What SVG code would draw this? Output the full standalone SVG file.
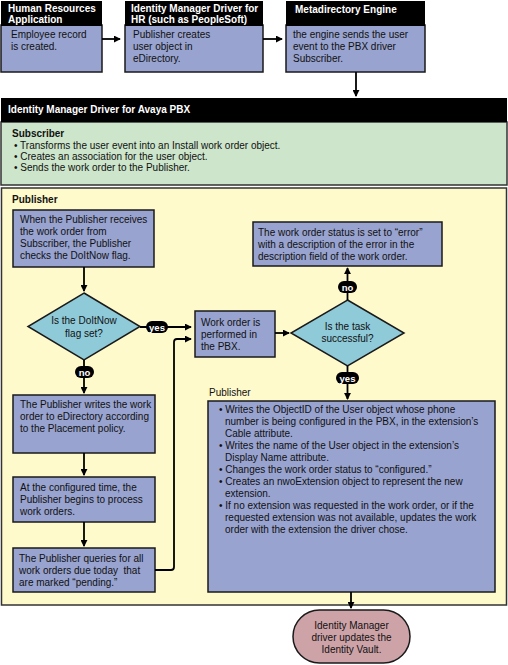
<svg xmlns="http://www.w3.org/2000/svg" width="508" height="665" viewBox="0 0 508 665">
<defs>
<marker id="ah" viewBox="0 0 8 8" refX="7" refY="4" markerWidth="7" markerHeight="7" orient="auto" markerUnits="userSpaceOnUse">
<path d="M0,0 L8,4 L0,8 z" fill="#000"/>
</marker>
<style>
text{font-family:"Liberation Sans",Arial,sans-serif;font-size:10px;fill:#111}
.hd{fill:#000}
.ht{fill:#fff;font-weight:bold;font-size:10px}
.bx{fill:#98A3CF;stroke:#1a1a1a;stroke-width:1.5}
.dm{fill:#8FCAD9;stroke:#1a1a1a;stroke-width:1.5}
.ln{fill:none;stroke:#000;stroke-width:1.8}
.pl{fill:#000}
.pt{fill:#fff;font-weight:bold;font-size:9.5px;text-anchor:middle}
.b{font-weight:bold}
.c{text-anchor:middle}
</style>
</defs>
<rect width="508" height="665" fill="#fff"/>

<g id="hr-app">
<rect class="bx" x="1" y="25" width="101" height="47"/>
<rect class="hd" x="1" y="1" width="101" height="25"/>
<text class="ht" x="8" y="12">Human Resources</text>
<text class="ht" x="8" y="23">Application</text>
<text x="11" y="38">Employee record</text>
<text x="11" y="50">is created.</text>
</g>

<g id="idm-hr">
<rect class="bx" x="125" y="25" width="138" height="47"/>
<rect class="hd" x="125" y="1" width="138" height="25"/>
<text class="ht" x="131" y="12">Identity Manager Driver for</text>
<text class="ht" x="131" y="23">HR (such as PeopleSoft)</text>
<text x="133" y="38">Publisher creates</text>
<text x="133" y="50">user object in</text>
<text x="133" y="62">eDirectory.</text>
</g>

<g id="meta">
<rect class="bx" x="286" y="25" width="139" height="47"/>
<rect class="hd" x="286" y="1" width="139" height="25"/>
<text class="ht" x="295" y="13">Metadirectory Engine</text>
<text x="293" y="38">the engine sends the user</text>
<text x="293" y="50">event to the PBX driver</text>
<text x="293" y="62">Subscriber.</text>
</g>

<g id="avaya">
<rect x="1" y="122" width="506" height="63" fill="#CCE5CB" stroke="#333" stroke-width="1.5"/>
<rect class="hd" x="1" y="98" width="506" height="24"/>
<text class="ht" x="8" y="113">Identity Manager Driver for Avaya PBX</text>
<text class="b" x="12" y="137">Subscriber</text>
<text x="14" y="149">• Transforms the user event into an Install work order object.</text>
<text x="14" y="160">• Creates an association for the user object.</text>
<text x="14" y="171">• Sends the work order to the Publisher.</text>
</g>

<g id="publisher">
<rect x="1.5" y="188" width="505" height="417" fill="#FFFACB" stroke="#333" stroke-width="1.5"/>
<text class="b" x="12" y="203">Publisher</text>
</g>

<g id="receive">
<rect class="bx" x="13" y="210" width="141" height="57"/>
<text x="20" y="223">When the Publisher receives</text>
<text x="20" y="235">the work order from</text>
<text x="20" y="247">Subscriber, the Publisher</text>
<text x="20" y="259">checks the DoItNow flag.</text>
</g>

<g id="doitnow">
<polygon class="dm" points="84,293 140,326.5 84,360 28,326.5"/>
<text class="c" x="84" y="324">Is the DoItNow</text>
<text class="c" x="84" y="337">flag set?</text>
</g>

<g id="perform">
<rect class="bx" x="195" y="311" width="80" height="46"/>
<text x="201" y="326">Work order is</text>
<text x="201" y="338">performed in</text>
<text x="201" y="350">the PBX.</text>
</g>

<g id="success">
<polygon class="dm" points="347.5,300 404,333 347.5,366 291,333"/>
<text class="c" x="347.5" y="330">Is the task</text>
<text class="c" x="347.5" y="342">successful?</text>
</g>

<g id="error">
<rect class="bx" x="253" y="222" width="189" height="44"/>
<text x="258" y="236">The work order status is set to “error”</text>
<text x="258" y="248">with a description of the error in the</text>
<text x="258" y="260">description field of the work order.</text>
</g>

<g id="write">
<rect class="bx" x="13" y="395" width="142" height="58"/>
<text x="20" y="408">The Publisher writes the work</text>
<text x="20" y="420">order to eDirectory according</text>
<text x="20" y="432">to the Placement policy.</text>
</g>

<g id="configured">
<rect class="bx" x="13" y="477" width="142" height="45"/>
<text x="20" y="491">At the configured time, the</text>
<text x="20" y="503">Publisher begins to process</text>
<text x="20" y="515">work orders.</text>
</g>

<g id="queries">
<rect class="bx" x="13" y="548" width="142" height="44"/>
<text x="19" y="562">The Publisher queries for all</text>
<text x="19" y="574" xml:space="preserve">work orders due today  that</text>
<text x="19" y="586">are marked “pending.”</text>
</g>

<g id="pub-actions">
<text x="209" y="396">Publisher</text>
<rect class="bx" x="208" y="401" width="287" height="191"/>
<text x="219" y="413">• Writes the ObjectID of the User object whose phone</text>
<text x="225" y="425">number is being configured in the PBX, in the extension’s</text>
<text x="225" y="437">Cable attribute.</text>
<text x="219" y="449">• Writes the name of the User object in the extension’s</text>
<text x="225" y="461">Display Name attribute.</text>
<text x="219" y="473">• Changes the work order status to “configured.”</text>
<text x="219" y="485">• Creates an nwoExtension object to represent the new</text>
<text x="225" y="497">extension.</text>
<text x="219" y="509">• If no extension was requested in the work order, or if the</text>
<text x="225" y="521">requested extension was not available, updates the work</text>
<text x="225" y="533">order with the extension the driver chose.</text>
</g>

<g id="vault">
<rect x="293" y="610" width="117" height="53" rx="26.5" fill="#CDA3A8" stroke="#1a1a1a" stroke-width="1.5"/>
<text class="c" x="351.5" y="629">Identity Manager</text>
<text class="c" x="351.5" y="641">driver updates the</text>
<text class="c" x="351.5" y="653">Identity Vault.</text>
</g>

<g id="connectors">
<line class="ln" x1="102" y1="39" x2="120" y2="39" marker-end="url(#ah)"/>
<line class="ln" x1="263" y1="39" x2="282" y2="39" marker-end="url(#ah)"/>
<line class="ln" x1="356" y1="72" x2="356" y2="96" marker-end="url(#ah)"/>
<line class="ln" x1="84" y1="267" x2="84" y2="291" marker-end="url(#ah)"/>
<line class="ln" x1="140" y1="327" x2="191" y2="327" marker-end="url(#ah)"/>
<line class="ln" x1="84" y1="360" x2="84" y2="393" marker-end="url(#ah)"/>
<line class="ln" x1="84" y1="453" x2="84" y2="475" marker-end="url(#ah)"/>
<line class="ln" x1="84" y1="522" x2="84" y2="546" marker-end="url(#ah)"/>
<path class="ln" d="M155,570 H171 Q174,570 174,567 V342 Q174,339 177,339 H191" marker-end="url(#ah)"/>
<line class="ln" x1="275" y1="333" x2="289" y2="333" marker-end="url(#ah)"/>
<line class="ln" x1="347.5" y1="300" x2="347.5" y2="268" marker-end="url(#ah)"/>
<line class="ln" x1="347.5" y1="366" x2="347.5" y2="399" marker-end="url(#ah)"/>
<line class="ln" x1="351" y1="592" x2="351" y2="608" marker-end="url(#ah)"/>
<rect class="pl" x="146" y="321" width="22" height="12" rx="6"/>
<text class="pt" x="157" y="330.5">yes</text>
<rect class="pl" x="75" y="366" width="19" height="12" rx="6"/>
<text class="pt" x="84.5" y="375.5">no</text>
<rect class="pl" x="338" y="281" width="19" height="12" rx="6"/>
<text class="pt" x="347.5" y="290.5">no</text>
<rect class="pl" x="336" y="372" width="23" height="12" rx="6"/>
<text class="pt" x="347.5" y="381.5">yes</text>
</g>
</svg>
